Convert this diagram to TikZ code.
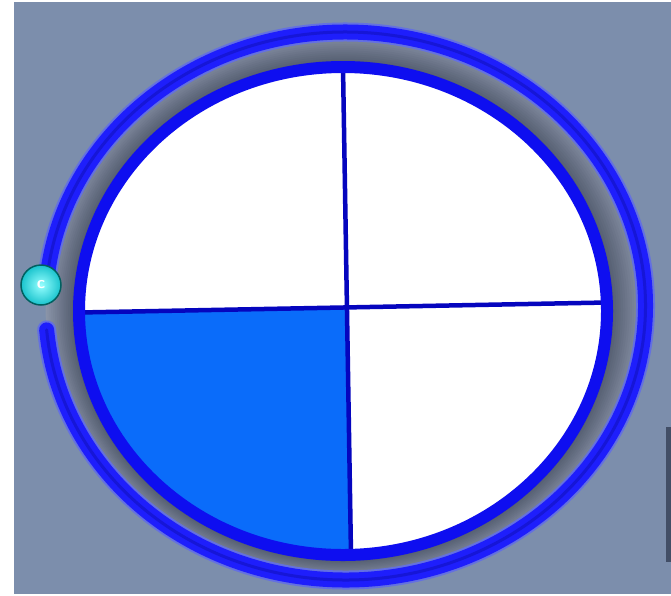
\documentclass[tikz,border=0pt]{standalone}
\definecolor{bg}{RGB}{124,142,172}
\definecolor{ringblue}{RGB}{30,30,252}
\definecolor{ringcore}{RGB}{22,22,215}
\definecolor{ringhalo}{RGB}{100,112,225}
\definecolor{innerblue}{RGB}{14,14,240}
\definecolor{crossblue}{RGB}{5,5,190}
\definecolor{quadblue}{RGB}{10,108,250}
\definecolor{gLight}{RGB}{138,148,168}
\definecolor{gDark}{RGB}{86,95,114}
\definecolor{slate}{RGB}{66,78,102}
\definecolor{knobin}{RGB}{150,255,255}
\definecolor{knobout}{RGB}{25,195,205}
\tikzset{
  crossline/.style={crossblue, line width=4.5},
  ringline/.style={line cap=round},
}
\begin{document}
\begin{tikzpicture}[x=1pt,y=-1pt]
\useasboundingbox (0,0) rectangle (671,595);
\fill[white] (0,0) rectangle (671,595);
\fill[bg] (14,2) rectangle (671,594);
\fill[slate] (666,427) rectangle (671,562);
% gray band gradient
\foreach \i in {0,...,14} {
  \pgfmathsetmacro\rx{300-2.07*\i}
  \pgfmathsetmacro\ry{274-1.68*\i}
  \pgfmathsetmacro\cx{345.5-0.18*\i}
  \pgfmathsetmacro\cy{306+0.36*\i}
  \pgfmathtruncatemacro\p{100-\i*100/14}
  \fill[gLight!\p!gDark] (\cx,\cy) ellipse[x radius=\rx, y radius=\ry];
}
% outer ring with gap
\draw[ringline, ringhalo, line width=19] (345.5,306) ++(184:300 and 274) arc[start angle=184, end angle=535, x radius=300, y radius=274];
\draw[ringline, ringblue, line width=15] (345.5,306) ++(184:300 and 274) arc[start angle=184, end angle=535, x radius=300, y radius=274];
\draw[ringline, ringcore, line width=3] (345.5,306) ++(184:300 and 274) arc[start angle=184, end angle=535, x radius=300, y radius=274];
% inner disc
\coordinate (top) at (343,67);
\coordinate (bot) at (351,555);
\coordinate (lft) at (79,312.5);
\coordinate (rgt) at (607,302.5);
\coordinate (mid) at (347,307.4);
\fill[white] (343,311) ellipse[x radius=264, y radius=244];
\begin{scope}
  \clip (343,311) ellipse[x radius=264, y radius=244];
  \fill[quadblue] (40,313.3) -- (mid) -- (351.8,600) -- (40,600) -- cycle;
  \draw[crossline] (top) -- (bot);
  \draw[crossline] (lft) -- (rgt);
\end{scope}
\draw[innerblue, line width=12] (343,311) ellipse[x radius=264, y radius=244];
% knob
\node[circle, minimum size=40pt, inner sep=0pt, inner color=knobin, outer color=knobout, draw=teal!75!black, line width=1.5pt] (ball) at (41,285) {\sffamily\bfseries\fontsize{17}{17}\selectfont\color{white}c};
\end{tikzpicture}
\end{document}
